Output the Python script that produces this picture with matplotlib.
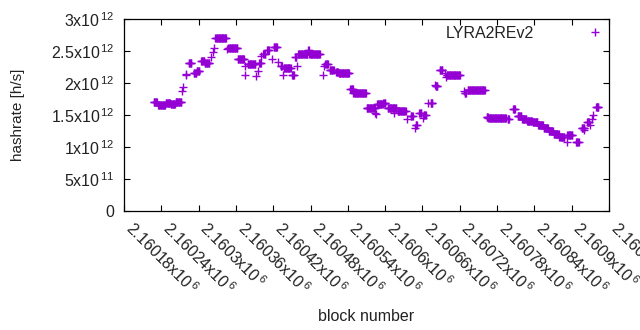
import numpy as np
import matplotlib
matplotlib.use('Agg')
import matplotlib.pyplot as plt

run_start = [2160228, 2160235, 2160247, 2160255, 2160263, 2160274, 2160275, 2160279, 2160280, 2160284,
             2160292, 2160297, 2160304, 2160310, 2160320, 2160323, 2160325, 2160327, 2160346, 2160348,
             2160363, 2160374, 2160375, 2160379, 2160393, 2160395, 2160397, 2160401, 2160404, 2160410,
             2160418, 2160421, 2160428, 2160432, 2160436, 2160437, 2160450, 2160455, 2160458, 2160460,
             2160476, 2160478, 2160500, 2160501, 2160504, 2160511, 2160521, 2160525, 2160544, 2160549,
             2160570, 2160583, 2160585, 2160587, 2160597, 2160604, 2160615, 2160620, 2160635, 2160641,
             2160648, 2160649, 2160655, 2160661, 2160662, 2160669, 2160673, 2160680, 2160681, 2160688,
             2160689, 2160696, 2160698, 2160699, 2160726, 2160728, 2160733, 2160763, 2160766, 2160797,
             2160806, 2160813, 2160820, 2160828, 2160837, 2160846, 2160855, 2160863, 2160871, 2160880,
             2160892, 2160893, 2160907, 2160916, 2160919, 2160925, 2160930, 2160932, 2160934, 2160939]
run_end = [2160233, 2160246, 2160254, 2160262, 2160272, 2160274, 2160275, 2160279, 2160280, 2160288,
           2160296, 2160301, 2160309, 2160317, 2160320, 2160323, 2160325, 2160344, 2160346, 2160362,
           2160373, 2160374, 2160375, 2160391, 2160393, 2160395, 2160400, 2160401, 2160407, 2160413,
           2160418, 2160426, 2160428, 2160434, 2160436, 2160448, 2160453, 2160457, 2160458, 2160475,
           2160477, 2160495, 2160500, 2160501, 2160508, 2160517, 2160524, 2160542, 2160548, 2160569,
           2160584, 2160583, 2160585, 2160596, 2160600, 2160618, 2160615, 2160633, 2160635, 2160644,
           2160648, 2160651, 2160658, 2160661, 2160665, 2160669, 2160676, 2160680, 2160684, 2160688,
           2160692, 2160696, 2160698, 2160720, 2160726, 2160730, 2160760, 2160765, 2160794, 2160799,
           2160809, 2160819, 2160827, 2160836, 2160845, 2160854, 2160862, 2160870, 2160879, 2160888,
           2160892, 2160901, 2160911, 2160920, 2160919, 2160928, 2160930, 2160932, 2160934, 2160943]
run_rate = [1.70, 1.66, 1.69, 1.67, 1.71, 1.87, 1.94, 2.12, 2.14, 2.32,
            2.16, 2.19, 2.35, 2.32, 2.40, 2.49, 2.54, 2.71, 2.53, 2.55,
            2.37, 2.27, 2.13, 2.30, 2.11, 2.19, 2.32, 2.42, 2.46, 2.51,
            2.38, 2.56, 2.33, 2.27, 2.13, 2.24, 2.13, 2.40, 2.26, 2.45,
            2.52, 2.45, 2.13, 2.27, 2.29, 2.21, 2.17, 2.15, 1.90, 1.85,
            1.61, 1.53, 1.51, 1.665, 1.69, 1.61, 1.53, 1.57, 1.43, 1.48,
            1.29, 1.35, 1.53, 1.455, 1.50, 1.69, 1.69, 1.97, 1.96, 2.21,
            2.21, 2.16, 2.10, 2.12, 1.88, 1.85, 1.89, 1.47, 1.455, 1.43,
            1.59, 1.48, 1.44, 1.41, 1.39, 1.35, 1.30, 1.25, 1.21, 1.16,
            1.075, 1.19, 1.075, 1.30, 1.27, 1.39, 1.34, 1.43, 1.50, 1.63]

x_ticks = [2160180 + 60 * i for i in range(14)]
x_ticklabels = ['2.16018', '2.16024', '2.1603', '2.16036', '2.16042', '2.16048', '2.16054',
                '2.1606', '2.16066', '2.16072', '2.16078', '2.16084', '2.1609', '2.16096']
y_ticks = [0, 0.5e12, 1e12, 1.5e12, 2e12, 2.5e12, 3e12]
y_ticklabels = ['0', '5x10$^{\\,11}$', '1x10$^{\\,12}$', '1.5x10$^{\\,12}$', '2x10$^{\\,12}$',
                '2.5x10$^{\\,12}$', '3x10$^{\\,12}$']

blocks = []
rates = []
for s, e, r in zip(run_start, run_end, run_rate):
    for b in range(s, e + 1):
        blocks.append(b)
        rates.append(r * 1e12)

plt.rcParams['font.family'] = ['Liberation Sans', 'DejaVu Sans']
plt.rcParams['mathtext.fontset'] = 'custom'
plt.rcParams['mathtext.rm'] = 'Liberation Sans'
plt.rcParams['mathtext.it'] = 'Liberation Sans'
plt.rcParams['font.size'] = 11.5

fig = plt.figure(figsize=(6.4, 3.3), dpi=100)
ax = fig.add_axes([124 / 640, 1 - 211 / 330, 485 / 640, 192 / 330])

ax.plot(blocks, rates, linestyle='none', marker='+', markersize=5.8,
        markeredgewidth=1.0, color='#9400d3', label='LYRA2REv2')

ax.set_xlim(2160180, 2160960)
ax.set_ylim(0, 3e12)
ax.set_xticks(x_ticks)
ax.set_xticklabels([t + 'x10$^{\\,6}$' for t in x_ticklabels], rotation=-45,
                   ha='left', va='baseline', rotation_mode='anchor', fontsize=11.5)
ax.set_yticks(y_ticks)
ax.set_yticklabels(y_ticklabels, fontsize=11.5)
ax.tick_params(direction='in', length=4, width=0.8, top=True, right=True,
               colors='black', labelcolor='#222222')
ax.tick_params(axis='x', pad=13.5)
ax.tick_params(axis='y', pad=7)
for sp in ax.spines.values():
    sp.set_linewidth(0.9)

ax.set_ylabel('hashrate [h/s]', color='#222222', fontsize=11)
ax.yaxis.set_label_coords(-0.205, 0.5)
ax.set_xlabel('block number', color='#222222', fontsize=11.5)
ax.xaxis.set_label_coords(0.5, -0.51)

ax.legend(loc='upper right', bbox_to_anchor=(607 / 640, 1 - 26 / 330),
          bbox_transform=fig.transFigure, frameon=False, markerfirst=False,
          handlelength=1.5, handletextpad=3.05, borderpad=0, borderaxespad=0,
          fontsize=11.5, labelcolor='#222222')

plt.savefig('out.png', dpi=100)
